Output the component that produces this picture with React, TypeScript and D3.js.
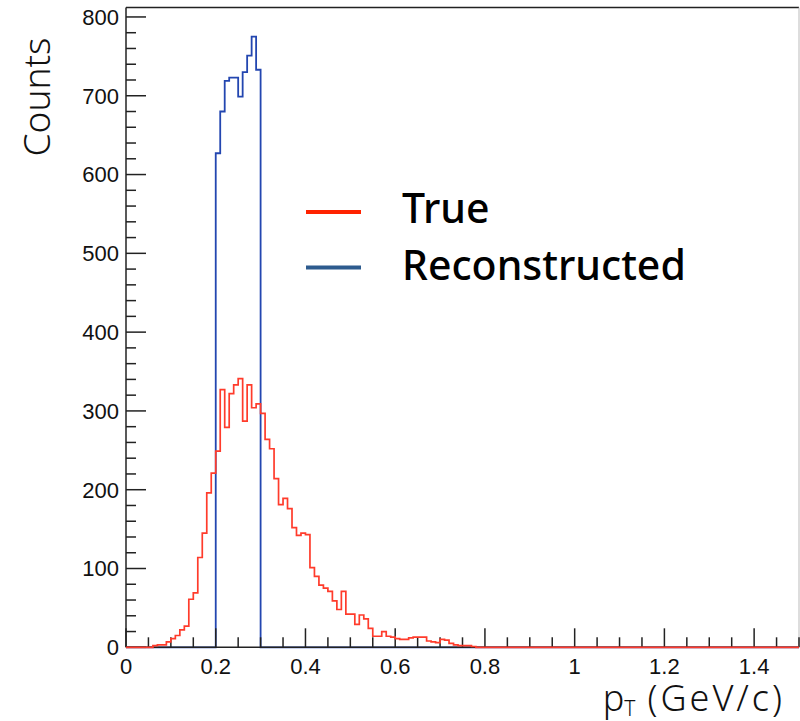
import React from "react";
import * as d3 from "d3";

const BIN_WIDTH = 0.01;

const trueStart = 0.06;
const trueCounts = [
  2, 3, 3, 7, 11, 15, 22, 27, 61, 69, 114, 145, 196, 221, 249, 327, 279, 322, 333, 341,
  287, 333, 304, 309, 297, 264, 252, 214, 181, 189, 176, 152, 142, 145, 143, 101, 90, 79, 75, 71,
  59, 48, 71, 42, 42, 29, 41, 36, 24, 14, 14, 20, 14, 13, 11, 10, 10, 12, 13, 13,
  13, 8, 7, 6, 10, 9, 5, 3, 2, 2, 2, 1,
];

const recoStart = 0.2;
const recoCounts = [627, 680, 719, 723, 723, 699, 730, 751, 775, 733];

const xTicksMajor = [0, 0.2, 0.4, 0.6, 0.8, 1, 1.2, 1.4];
const xTickLabels = ["0", "0.2", "0.4", "0.6", "0.8", "1", "1.2", "1.4"];
const yTicksMajor = [0, 100, 200, 300, 400, 500, 600, 700, 800];

const legendLabels = ["True", "Reconstructed"];

const X_MAX = 1.5;
const Y_MAX = 812;

export default function App() {
  const left = 126;
  const right = 799;
  const top = 7.5;
  const bottom = 647.3;

  const x = d3.scaleLinear().domain([0, X_MAX]).range([left, right]);
  const y = d3.scaleLinear().domain([0, Y_MAX]).range([bottom, top]);

  const histPoints = (start: number, counts: number[]) => {
    const pts: [number, number][] = [[0, 0]];
    counts.forEach((c, i) => pts.push([start + i * BIN_WIDTH, c]));
    pts.push([start + counts.length * BIN_WIDTH, 0]);
    pts.push([X_MAX, 0]);
    return pts;
  };

  const line = d3
    .line<[number, number]>()
    .x((d) => x(d[0]))
    .y((d) => y(d[1]))
    .curve(d3.curveStepAfter);

  const truePath = line(histPoints(trueStart, trueCounts)) || "";
  const recoPath = line(histPoints(recoStart, recoCounts)) || "";

  const xMinor = d3.range(0, X_MAX + 1e-9, 0.05).filter((v) => Math.abs(v / 0.2 - Math.round(v / 0.2)) > 1e-6);
  const yMinor = d3.range(0, Y_MAX, 20).filter((v) => v % 100 !== 0);

  const tickFont = "'Liberation Sans', Arial, Helvetica, sans-serif";
  const titleFont = "'Noto Sans', sans-serif";

  return (
    <svg width={800} height={721} style={{ position: "absolute", left: 0, top: 0, background: "#fff" }}>
      <rect x={0} y={0} width={800} height={721} fill="#fff" />
      {/* reconstructed histogram drawn first */}
      <path d={recoPath} fill="none" stroke="#2346b0" strokeWidth={1.8} />

      {/* frame */}
      <line x1={left} x2={right} y1={top} y2={top} stroke="#222" strokeWidth={1.5} />
      <line x1={left} x2={left} y1={top} y2={bottom} stroke="#222" strokeWidth={1.5} />
      <line x1={right} x2={right} y1={top} y2={bottom} stroke="#bbb" strokeWidth={1} />
      <line x1={left} x2={right} y1={bottom} y2={bottom} stroke="#222" strokeWidth={1.5} />

      {/* x ticks */}
      {xTicksMajor.map((v) => (
        <line key={"xM" + v} x1={x(v)} x2={x(v)} y1={bottom} y2={bottom - 19} stroke="#222" strokeWidth={1.5} />
      ))}
      {xMinor.map((v) => (
        <line key={"xm" + v} x1={x(v)} x2={x(v)} y1={bottom} y2={bottom - 10} stroke="#222" strokeWidth={1.5} />
      ))}
      {/* y ticks */}
      {yTicksMajor.map((v) => (
        <line key={"yM" + v} x1={left} x2={left + 20} y1={y(v)} y2={y(v)} stroke="#222" strokeWidth={1.5} />
      ))}
      {yMinor.map((v) => (
        <line key={"ym" + v} x1={left} x2={left + 10} y1={y(v)} y2={y(v)} stroke="#222" strokeWidth={1.5} />
      ))}

      {/* true histogram on top */}
      <path d={truePath} fill="none" stroke="#ff3b2b" strokeWidth={1.7} />

      {/* tick labels */}
      {xTicksMajor.map((v, i) => (
        <text key={"xl" + v} x={x(v)} y={674} textAnchor="middle" fontFamily={tickFont} fontSize={22} fill="#111">
          {xTickLabels[i]}
        </text>
      ))}
      {yTicksMajor.map((v) => (
        <text key={"yl" + v} x={119} y={y(v)} dy="0.36em" textAnchor="end" fontFamily={tickFont} fontSize={22} fill="#111">
          {v}
        </text>
      ))}

      {/* axis titles */}
      <text
        transform={`translate(50, 97) rotate(-90)`}
        textAnchor="middle"
        fontFamily={titleFont}
        fontWeight={300}
        fontSize={37}
        fill="#111"
      >
        Counts
      </text>
      <text x={785} y={711} textAnchor="end" fontFamily={titleFont} fontWeight={300} fontSize={36} fill="#111">
        <tspan>p</tspan>
        <tspan fontSize={21} dy={5}>T</tspan>
        <tspan dx={12} dy={-5} letterSpacing={3}>(GeV/c)</tspan>
      </text>

      {/* legend */}
      <line x1={306} x2={361} y1={212} y2={212} stroke="#ff2200" strokeWidth={4} />
      <line x1={306} x2={361} y1={267.5} y2={267.5} stroke="#2d5b8e" strokeWidth={4} />
      <text x={402} y={223} fontFamily={titleFont} fontWeight={500} fontSize={41} fill="#000">
        {legendLabels[0]}
      </text>
      <text x={402} y={280} fontFamily={titleFont} fontWeight={500} fontSize={41} fill="#000">
        {legendLabels[1]}
      </text>
    </svg>
  );
}
